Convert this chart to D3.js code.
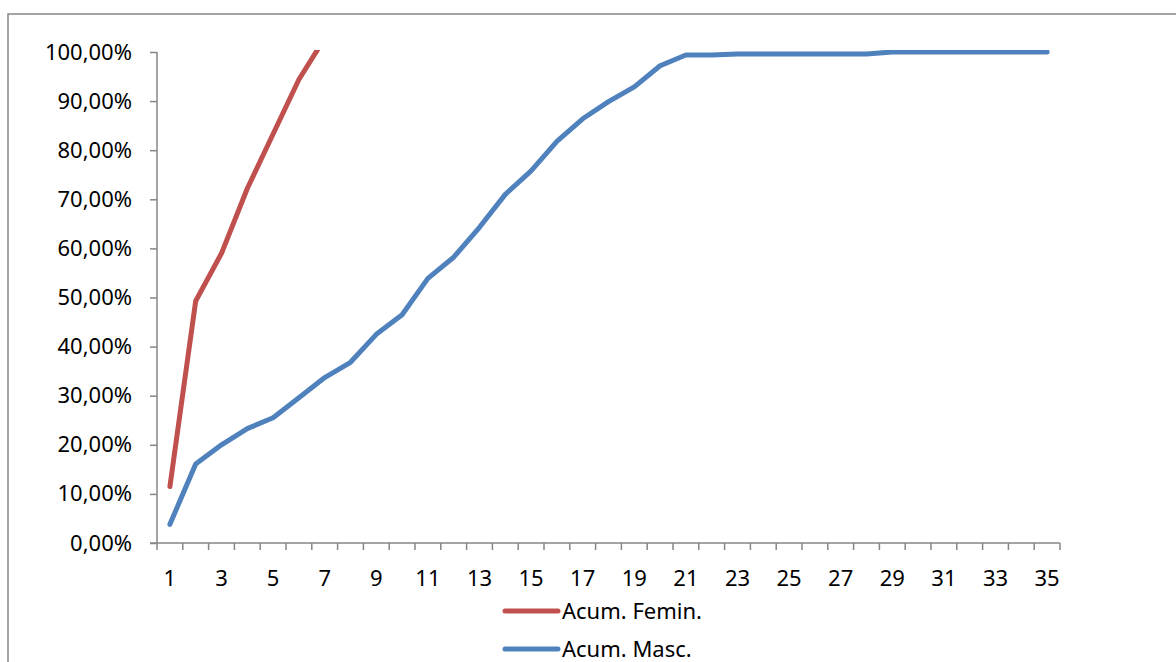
<!DOCTYPE html>
<html>
<head>
<meta charset="utf-8">
<script src="https://cdn.jsdelivr.net/npm/d3@7"></script>
<style>
  body { margin: 0; background: #fff; }
  svg text { font-family: "Noto Sans", "Open Sans", sans-serif; fill: #000; }
</style>
</head>
<body>
<div id="chart-area"></div>
<script>
// categories 1..35
var categories = [1,2,3,4,5,6,7,8,9,10,11,12,13,14,15,16,17,18,19,20,
                  21,22,23,24,25,26,27,28,29,30,31,32,33,34,35];
// cumulative percentages
var femin = [11.5, 49.3, 59.0, 72.2, 83.3, 94.4, 102.8];
var masc = [3.8, 16.1, 20.0, 23.3, 25.5, 29.6, 33.7, 36.8, 42.5, 46.5,
            53.9, 58.2, 64.3, 71.0, 75.8, 81.8, 86.4, 89.9, 92.9, 97.2,
            99.4, 99.4, 99.6, 99.6, 99.6, 99.6, 99.6, 99.6, 100, 100,
            100, 100, 100, 100, 100];
var yTicks = [0, 10, 20, 30, 40, 50, 60, 70, 80, 90, 100];
var seriesNames = ["Acum. Femin.", "Acum. Masc."];
var seriesColors = ["#c0504d", "#4f81bd"];

var width = 1176, height = 662;
var plot = {left: 157, right: 1060, top: 52, bottom: 543};
var axisColor = "#868686";
var fontSize = "22px";

var svg = d3.select("#chart-area").append("svg")
    .attr("width", width)
    .attr("height", height);

// chart frame
svg.append("rect")
    .attr("x", 8).attr("y", 14)
    .attr("width", width + 20).attr("height", height + 20)
    .attr("fill", "none")
    .attr("stroke", axisColor)
    .attr("stroke-width", 1.5);

var x = d3.scaleBand()
    .domain(categories)
    .range([plot.left, plot.right])
    .padding(0);

var y = d3.scaleLinear()
    .domain([0, 100])
    .range([plot.bottom, plot.top]);

svg.append("clipPath").attr("id", "plot-clip")
  .append("rect")
    .attr("x", plot.left).attr("y", plot.top - 2)
    .attr("width", plot.right - plot.left).attr("height", plot.bottom - plot.top + 2);

// y axis
var leftAxis = d3.axisLeft(y)
    .tickValues(yTicks)
    .tickSize(7)
    .tickPadding(18)
    .tickFormat((d) => { return d3.format(".2f")(d).replace(".", ",") + "%"; });

var gy = svg.append("g")
    .attr("class", "left axis")
    .attr("transform", "translate(" + plot.left + ",0)")
    .call(leftAxis);
gy.select(".domain").remove();
gy.selectAll("line").attr("stroke", axisColor).attr("stroke-width", 1.5);
gy.selectAll("text").attr("font-size", fontSize);

svg.append("line")
    .attr("x1", plot.left).attr("x2", plot.left)
    .attr("y1", plot.top).attr("y2", plot.bottom)
    .attr("stroke", axisColor).attr("stroke-width", 1.5);

// x axis line and boundary ticks
svg.append("line")
    .attr("x1", plot.left - 7).attr("x2", plot.right)
    .attr("y1", plot.bottom).attr("y2", plot.bottom)
    .attr("stroke", axisColor).attr("stroke-width", 1.5);

var bounds = categories.map((d) => { return x(d); }).concat([plot.right]);
svg.append("g").selectAll("line")
    .data(bounds)
    .enter().append("line")
    .attr("x1", (d) => d).attr("x2", (d) => d)
    .attr("y1", plot.bottom).attr("y2", plot.bottom + 7)
    .attr("stroke", axisColor).attr("stroke-width", 1.5);

var bottomAxis = d3.axisBottom(x)
    .tickValues(categories.filter((d) => d % 2 == 1))
    .tickSize(0)
    .tickPadding(27);

var gx = svg.append("g")
    .attr("class", "bottom axis")
    .attr("transform", "translate(0," + plot.bottom + ")")
    .call(bottomAxis);
gx.select(".domain").remove();
gx.selectAll("text").attr("font-size", fontSize);

// lines
var line = d3.line()
    .x((d, i) => { return x(categories[i]) + x.bandwidth() / 2; })
    .y((d) => { return y(d); });

var lines = svg.append("g").attr("clip-path", "url(#plot-clip)");
[femin, masc].forEach((s, i) => {
  lines.append("path")
      .datum(s)
      .attr("d", line)
      .attr("fill", "none")
      .attr("stroke", seriesColors[i])
      .attr("stroke-width", 5)
      .attr("stroke-linejoin", "round")
      .attr("stroke-linecap", "round");
});

// legend
var legend = svg.append("g").selectAll("g")
    .data(seriesNames)
    .enter().append("g")
    .attr("transform", (d, i) => { return "translate(505," + (611 + i * 38) + ")"; });

legend.append("line")
    .attr("x1", 0).attr("x2", 53)
    .attr("stroke", (d, i) => seriesColors[i])
    .attr("stroke-width", 5)
    .attr("stroke-linecap", "round");

legend.append("text")
    .attr("x", 57)
    .attr("dy", "0.38em")
    .attr("font-size", fontSize)
    .text((d) => d);
</script>
</body>
</html>
